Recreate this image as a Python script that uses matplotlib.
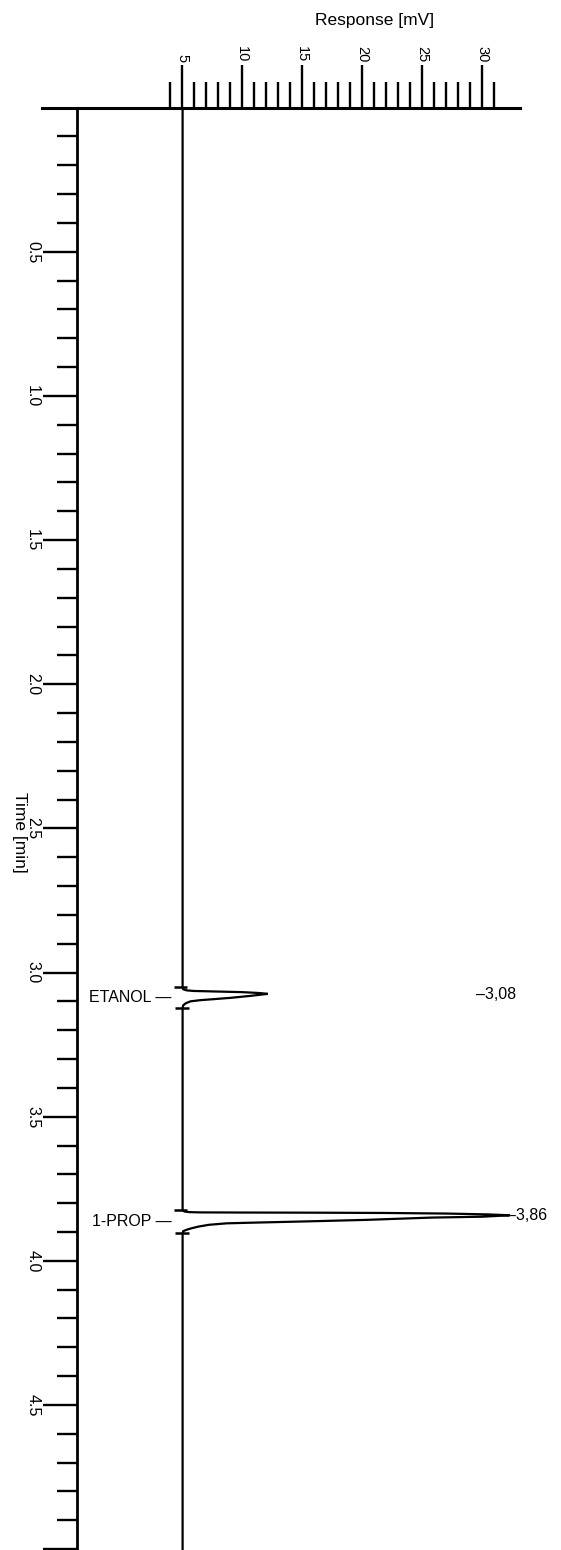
import matplotlib
matplotlib.use("Agg")
import matplotlib.pyplot as plt
from matplotlib.ticker import FixedLocator, FixedFormatter

plt.rcParams['font.family'] = ['Liberation Sans', 'DejaVu Sans']

# ---------------- data ----------------
# detector trace: time [min] and response [mV]
trace_time = [0.000, 3.050, 3.058, 3.062, 3.064, 3.066, 3.068, 3.071, 3.074,
              3.081, 3.088, 3.096, 3.100, 3.107, 3.114, 3.123,
              3.824, 3.829, 3.831, 3.832, 3.8325, 3.833, 3.834, 3.836, 3.839, 3.842,
              3.847, 3.850, 3.858, 3.863, 3.868, 3.870, 3.875, 3.881, 3.887, 3.892,
              3.897, 3.904, 5.000]
trace_resp = [5.05, 5.05, 5.10, 5.40, 6.00, 8.00, 10.00, 11.40, 12.15,
              10.70, 9.00, 6.50, 5.70, 5.30, 5.10, 5.05,
              5.05, 5.20, 5.60, 6.50, 10.00, 16.00, 22.00, 27.00, 30.50, 32.30,
              30.00, 25.80, 20.30, 15.60, 10.50, 8.70, 7.25, 6.40, 5.80, 5.40,
              5.10, 5.05, 5.05]

peak_names = ["ETANOL", "1-PROP"]
peak_rt_labels = ["3,08", "3,86"]
peak_start = [3.050, 3.824]
peak_end = [3.123, 3.904]
peak_apex_time = [3.076, 3.843]

x_major = [5, 10, 15, 20, 25, 30]
x_minor = [v for v in range(4, 32) if v % 5 != 0]
y_major = [0.5, 1.0, 1.5, 2.0, 2.5, 3.0, 3.5, 4.0, 4.5, 5.0]
y_major_labels = ["0.5", "1.0", "1.5", "2.0", "2.5", "3.0", "3.5", "4.0", "4.5", ""]
y_minor = [round(i * 0.1, 1) for i in range(1, 50) if i % 5 != 0]

# ---------------- figure ----------------
W, H = 561, 1550
fig = plt.figure(figsize=(W / 100, H / 100), dpi=100)
ax_left, ax_right = 42, 520
ax_top = 107.6
ax = fig.add_axes([ax_left / W, 0.0, (ax_right - ax_left) / W, 1 - ax_top / H])

px_per_mv = 12.0
x0_px = 182.0  # pixel of 5 mV
ax.set_xlim(5 - (x0_px - ax_left) / px_per_mv, 5 + (ax_right - x0_px) / px_per_mv)
ax.set_ylim(5.003, 0.0)

ax.plot(trace_resp, trace_time, color='black', lw=1.6, solid_joinstyle='miter')

# peak start / end markers
ax.hlines(peak_start, 4.3, 5.4, color='black', lw=1.8)
ax.hlines(peak_end, 4.4, 5.6, color='black', lw=1.8)

for name, s, e in zip(peak_names, peak_start, peak_end):
    ax.text(4.1, (s + e) / 2, name + " \u2014", ha='right', va='center',
            fontsize=11.5, color='black')

rt_x = [29.5, 32.1]
for lab, t, xx in zip(peak_rt_labels, peak_apex_time, rt_x):
    ax.text(xx, t, "\u2013" + lab, ha='left', va='center', fontsize=11.5, color='black')

# spines
for s in ['right', 'bottom']:
    ax.spines[s].set_visible(False)
ax.spines['top'].set_linewidth(2.2)
ax.spines['left'].set_linewidth(2.0)
ax.spines['left'].set_position(('axes', (77 - ax_left) / (ax_right - ax_left)))

# top axis ticks
ax.xaxis.tick_top()
ax.xaxis.set_major_locator(FixedLocator(x_major))
ax.xaxis.set_minor_locator(FixedLocator(x_minor))
ax.tick_params(axis='x', which='major', direction='out', length=31, width=1.7,
               pad=1.5, labelsize=10.5, labelrotation=-90)
ax.tick_params(axis='x', which='minor', direction='out', length=18.5, width=1.7)

# left axis ticks
ax.yaxis.set_major_locator(FixedLocator(y_major))
ax.yaxis.set_major_formatter(FixedFormatter(y_major_labels))
ax.yaxis.set_minor_locator(FixedLocator(y_minor))
ax.tick_params(axis='y', which='major', direction='out', length=24.5, width=1.7,
               pad=2, labelsize=11.5, labelrotation=-90)
ax.tick_params(axis='y', which='minor', direction='out', length=14.4, width=1.7)
for lbl in ax.get_yticklabels():
    lbl.set_va('center')

fig.text(375 / W, 1 - 20 / H, "Response [mV]", ha='center', va='center', fontsize=12.5)
fig.text(19 / W, 1 - 832 / H, "Time [min]", ha='center', va='center',
         rotation=-90, fontsize=12.5)

fig.savefig("out.png", dpi=100)
